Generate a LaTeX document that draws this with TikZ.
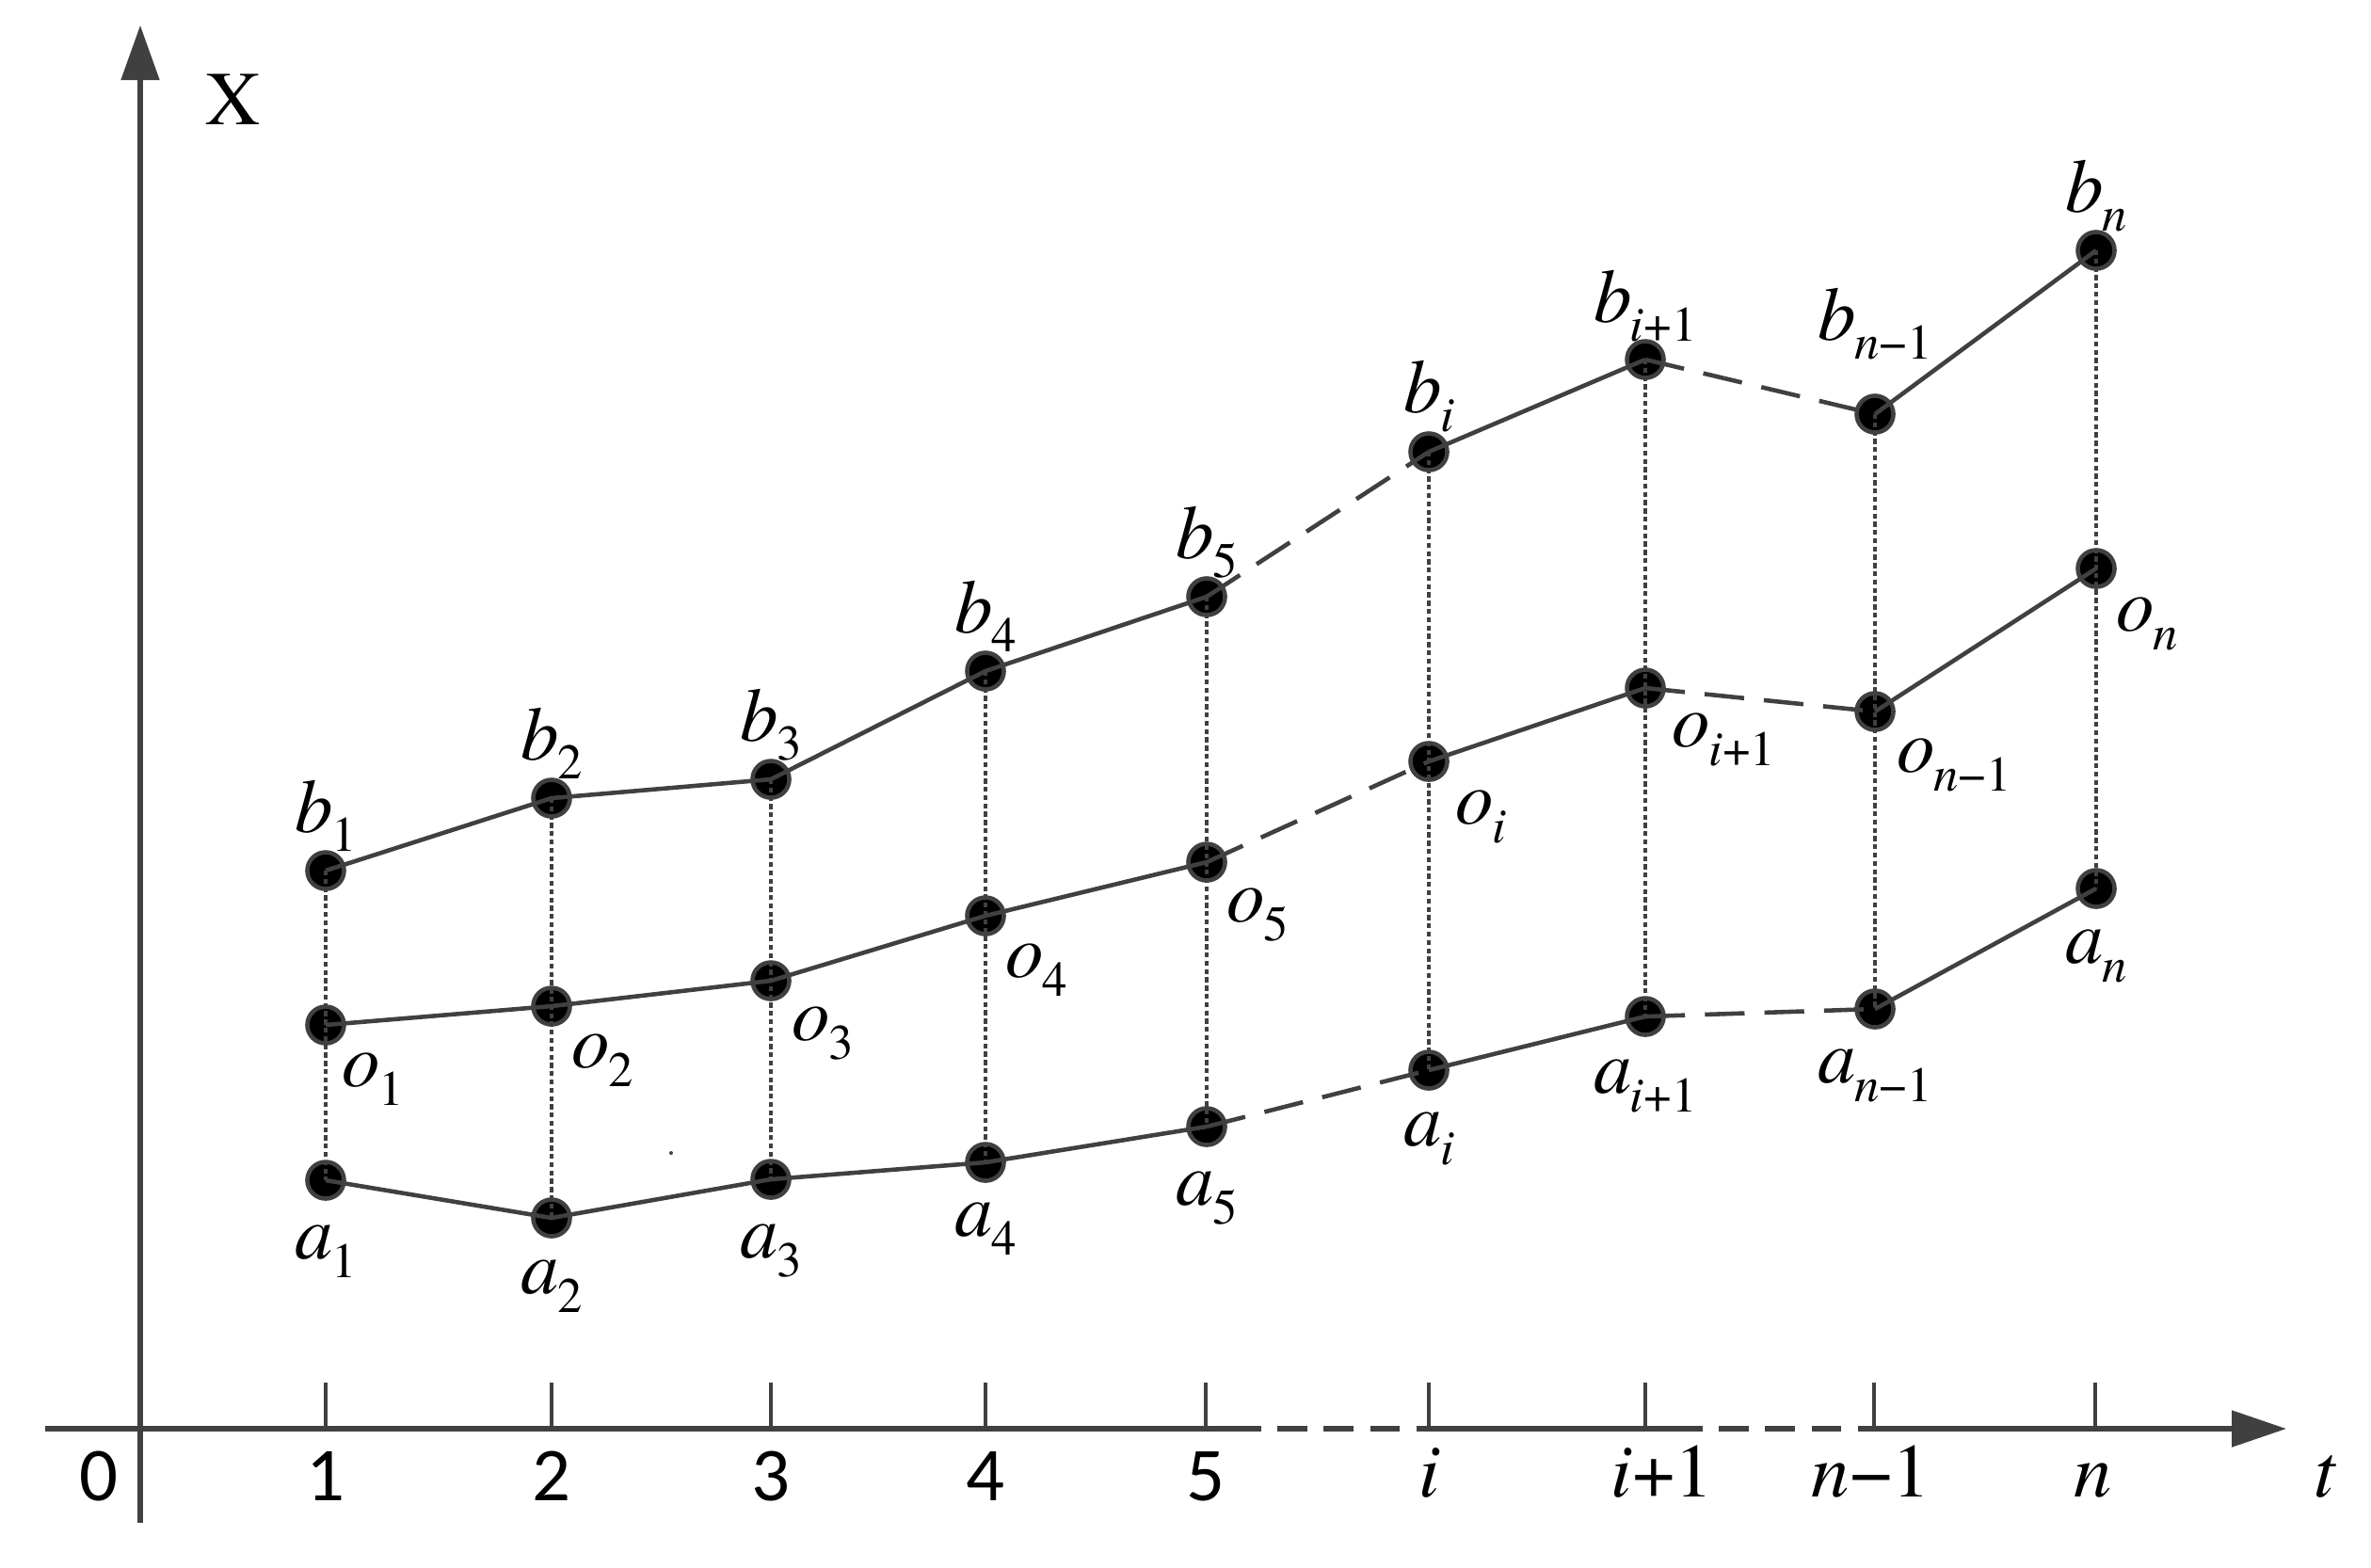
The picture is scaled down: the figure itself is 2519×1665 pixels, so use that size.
\documentclass[tikz,border=0pt]{standalone}
\usepackage{fontspec}
\setmainfont{texgyretermes}[Extension=.otf,UprightFont=*-regular,ItalicFont=*-italic,BoldFont=*-bold,BoldItalicFont=*-bolditalic]
\newfontfamily\numfont{Carlito}
\usetikzlibrary{arrows.meta,calc}
\definecolor{lg}{HTML}{404040}
\newcommand{\mylab}[2]{{\fontsize{23}{23}\selectfont\itshape #1}\kern-0.5pt\raisebox{-5.7pt}{\fontsize{15}{15}\selectfont #2}}
\newcommand{\subi}{\textit{i}}
\newcommand{\subn}{\textit{n}}
\begin{document}
\begin{tikzpicture}[x=0.01cm,y=-0.01cm,
  dotnode/.style={circle,fill=black,draw=lg,line width=1.3pt,minimum size=0.39cm,inner sep=0pt},
  conn/.style={draw=lg,line width=1.3pt},
  gapln/.style={conn,dash pattern=on 12pt off 6pt},
  vdot/.style={draw=lg,line width=1.05pt,dash pattern=on 1.5pt off 1pt},
  axisln/.style={draw=lg,line width=1.45pt},
  axisdash/.style={axisln,dash pattern=on 9pt off 5pt},
  tickln/.style={draw=lg,line width=1pt},
  toplab/.style={anchor=base,inner sep=0pt},
  midlab/.style={anchor=base west,inner sep=0pt},
  numlab/.style={anchor=base,inner sep=0pt,font=\numfont\fontsize{23}{23}\selectfont},
  itlab/.style={anchor=base,inner sep=0pt,font=\fontsize{23}{23}\selectfont\itshape}]
\useasboundingbox (0,0) rectangle (2519,1665);

% axes
\coordinate (ybot) at (149,1618);
\coordinate (ytop) at (149,27);
\coordinate (xstart) at (48,1518);
\coordinate (xs5) at (1308,1518);
\coordinate (xsi) at (1517,1518);
\coordinate (xsi1) at (1777,1518);
\coordinate (xsn1) at (1990,1518);
\coordinate (xend) at (2429,1518);
\draw[axisln,-{Triangle[length=0.58cm,width=0.40cm]}] (ybot) -- (ytop);
\draw[axisln] (xstart) -- (xs5);
\draw[axisdash] (xs5) -- (xsi);
\draw[axisln] (xsi) -- (xsi1);
\draw[axisdash] (xsi1) -- (xsn1);
\draw[axisln,-{Triangle[length=0.58cm,width=0.38cm]}] (xsn1) -- (xend);

\node[anchor=base,inner sep=0pt,font=\fontsize{23}{23}\selectfont] (xlab) at (248,132) {X};
\node[itlab] (tlab) at (2470,1590) {t};
\node[numlab] (zero) at (105,1594) {0};

% ticks and tick labels
\foreach \nm/\xx/\tx in {1/346/1,2/586/2,3/819/3,4/1047/4,5/1281/5}{
  \coordinate (tk\nm) at (\xx,1469);
  \coordinate (tb\nm) at (\xx,1518);
  \draw[tickln] (tk\nm) -- (tb\nm);
  \node[numlab] (tl\nm) at (\xx,1594) {\tx};
}
\foreach \nm/\xx in {i/1518,ii/1748,nn/1991,n/2226}{
  \coordinate (tk\nm) at (\xx,1469);
  \coordinate (tb\nm) at (\xx,1518);
  \draw[tickln] (tk\nm) -- (tb\nm);
}
\node[itlab] (tli) at (1519,1590) {i};
\node[itlab] (tlii) at (1766,1590) {i\upshape+1};
\node[itlab] (tlnn) at (1988,1590) {n\upshape−1};
\node[itlab] (tln) at (2224,1590) {n};

% points
\node[dotnode] (b1) at (346,925) {};
\node[dotnode] (b2) at (586,848) {};
\node[dotnode] (b3) at (819,828) {};
\node[dotnode] (b4) at (1047,713) {};
\node[dotnode] (b5) at (1282,634) {};
\node[dotnode] (bi) at (1518,480) {};
\node[dotnode] (bii) at (1748,382) {};
\node[dotnode] (bnn) at (1992,440) {};
\node[dotnode] (bn) at (2227,266) {};

\node[dotnode] (o1) at (346,1089) {};
\node[dotnode] (o2) at (586,1069) {};
\node[dotnode] (o3) at (819,1042) {};
\node[dotnode] (o4) at (1047,973) {};
\node[dotnode] (o5) at (1282,916) {};
\node[dotnode] (oi) at (1518,809) {};
\node[dotnode] (oii) at (1748,731) {};
\node[dotnode] (onn) at (1992,756) {};
\node[dotnode] (on) at (2227,604) {};

\node[dotnode] (a1) at (346,1254) {};
\node[dotnode] (a2) at (586,1294) {};
\node[dotnode] (a3) at (819,1253) {};
\node[dotnode] (a4) at (1047,1235) {};
\node[dotnode] (a5) at (1282,1197) {};
\node[dotnode] (ai) at (1518,1137) {};
\node[dotnode] (aii) at (1748,1080) {};
\node[dotnode] (ann) at (1992,1072) {};
\node[dotnode] (an) at (2227,944) {};

% stray dot
\fill[lg] (713,1225) circle (0.02cm);

% vertical dotted lines
\foreach \k in {1,2,3,4,5,i,ii,nn,n}{
  \draw[vdot] (b\k.center) -- (a\k.center);
}

% polylines
\draw[conn] (b1.center) -- (b2.center) -- (b3.center) -- (b4.center) -- (b5.center);
\draw[gapln] (b5.center) -- (bi.center);
\draw[conn] (bi.center) -- (bii.center);
\draw[gapln] (bii.center) -- (bnn.center);
\draw[conn] (bnn.center) -- (bn.center);

\draw[conn] (o1.center) -- (o2.center) -- (o3.center) -- (o4.center) -- (o5.center);
\draw[gapln] (o5.center) -- (oi.center);
\draw[conn] (oi.center) -- (oii.center);
\draw[gapln] (oii.center) -- (onn.center);
\draw[conn] (onn.center) -- (on.center);

\draw[conn] (a1.center) -- (a2.center) -- (a3.center) -- (a4.center) -- (a5.center);
\draw[gapln] (a5.center) -- (ai.center);
\draw[conn] (ai.center) -- (aii.center);
\draw[gapln] (aii.center) -- (ann.center);
\draw[conn] (ann.center) -- (an.center);

% labels b
\node[toplab] (lb1) at ($(b1)+(0,-41)$) {\mylab{b}{1}};
\node[toplab] (lb2) at ($(b2)+(0,-41)$) {\mylab{b}{2}};
\node[toplab] (lb3) at ($(b3)+(0,-41)$) {\mylab{b}{3}};
\node[toplab] (lb4) at ($(b4)+(0,-41)$) {\mylab{b}{4}};
\node[toplab] (lb5) at ($(b5)+(0,-41)$) {\mylab{b}{5}};
\node[toplab] (lbi) at ($(bi)+(0,-42)$) {\mylab{b}{\subi}};
\node[toplab] (lbii) at ($(bii)+(0,-40)$) {\mylab{b}{\subi+1}};
\node[toplab] (lbnn) at ($(bnn)+(0,-79)$) {\mylab{b}{\subn−1}};
\node[toplab] (lbn) at ($(bn)+(0,-41)$) {\mylab{b}{\subn}};

% labels o
\node[midlab] (lo1) at ($(o1)+(17,65)$) {\mylab{o}{1}};
\node[midlab] (lo2) at ($(o2)+(21,65)$) {\mylab{o}{2}};
\node[midlab] (lo3) at ($(o3)+(22,63)$) {\mylab{o}{3}};
\node[midlab] (lo4) at ($(o4)+(21,65)$) {\mylab{o}{4}};
\node[midlab] (lo5) at ($(o5)+(21,63)$) {\mylab{o}{5}};
\node[midlab] (loi) at ($(oi)+(28,66)$) {\mylab{o}{\subi}};
\node[midlab] (loii) at ($(oii)+(28,62)$) {\mylab{o}{\subi+1}};
\node[midlab] (lonn) at ($(onn)+(23,64)$) {\mylab{o}{\subn−1}};
\node[midlab] (lon) at ($(on)+(21,66)$) {\mylab{o}{\subn}};

% labels a
\node[toplab] (la1) at ($(a1)+(0,83)$) {\mylab{a}{1}};
\node[toplab] (la2) at ($(a2)+(0,80)$) {\mylab{a}{2}};
\node[toplab] (la3) at ($(a3)+(0,83)$) {\mylab{a}{3}};
\node[toplab] (la4) at ($(a4)+(0,78)$) {\mylab{a}{4}};
\node[toplab] (la5) at ($(a5)+(0,83)$) {\mylab{a}{5}};
\node[toplab] (lai) at ($(ai)+(0,80)$) {\mylab{a}{\subi}};
\node[toplab] (laii) at ($(aii)+(0,81)$) {\mylab{a}{\subi+1}};
\node[toplab] (lann) at ($(ann)+(0,78)$) {\mylab{a}{\subn−1}};
\node[toplab] (lan) at ($(an)+(0,79)$) {\mylab{a}{\subn}};
\end{tikzpicture}
\end{document}
